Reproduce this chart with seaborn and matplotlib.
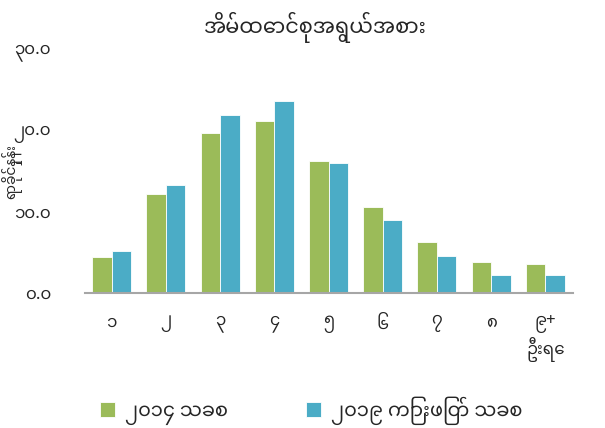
import pandas as pd
import seaborn as sns
import matplotlib.pyplot as plt
from matplotlib import font_manager

# dữ liệu
categories = ['၁', '၂', '၃', '၄', '၅', '၆', '၇', '၈', '၉+\nဦးရေ']
series_names = ['၂၀၁၄ သခစ', '၂၀၁၉ ကြားဖြတ် သခစ']
values_2014 = [4.4, 12.1, 19.6, 21.1, 16.2, 10.6, 6.3, 3.8, 3.5]
values_2019 = [5.2, 13.3, 21.8, 23.6, 15.9, 9.0, 4.6, 2.2, 2.2]
yticks = [0, 10, 20, 30]
ytick_labels = ['၀.၀', '၁၀.၀', '၂၀.၀', '၃၀.၀']
title = 'အိမ်ထောင်စုအရွယ်အစား'
ylabel = 'ရာခိုင်နှုန်း'
colors = ['#9BBB59', '#4BACC6']

df = pd.DataFrame({
    'cat': categories * 2,
    'value': values_2014 + values_2019,
    'series': [series_names[0]] * len(categories) + [series_names[1]] * len(categories),
})

sns.set_theme(style='white')
installed = {f.name for f in font_manager.fontManager.ttflist}
fams = [f for f in ['Noto Sans Myanmar', 'Padauk', 'Myanmar Text', 'Noto Sans', 'DejaVu Sans'] if f in installed]
plt.rcParams['font.family'] = fams

fig = plt.figure(figsize=(6.05, 4.28), dpi=100)
ax = fig.add_axes([0.1397, 0.3154, 0.8066, 0.5713])
sns.barplot(data=df, x='cat', y='value', hue='series', palette=colors, saturation=1,
            width=0.72, ax=ax, edgecolor='white', linewidth=0.6, legend=True)

ax.set_ylim(0, 30)
ax.set_yticks(yticks)
ax.set_yticklabels(ytick_labels, fontsize=12)
ax.tick_params(axis='y', length=0, pad=24)
ax.tick_params(axis='x', length=0, pad=16, labelsize=12)
for s in ['top', 'right', 'left']:
    ax.spines[s].set_visible(False)
ax.spines['bottom'].set_color('#A6A6A6')
ax.spines['bottom'].set_linewidth(1.5)
ax.set_xlabel('')
ax.set_ylabel('')

fig.text(0.52, 0.935, title, ha='center', va='center', fontsize=15, fontweight='bold')
fig.text(0.002, 0.6, ylabel, rotation=90, ha='left', va='center', fontsize=10)

handles, labels = ax.get_legend_handles_labels()
ax.legend_.remove()
fig.legend(handles, labels, loc='center', bbox_to_anchor=(0.514, 0.04), ncol=2,
           frameon=False, fontsize=14, handlelength=0.8, handleheight=0.8,
           columnspacing=4.0, handletextpad=0.5)

fig.savefig('out.png', dpi=100)
